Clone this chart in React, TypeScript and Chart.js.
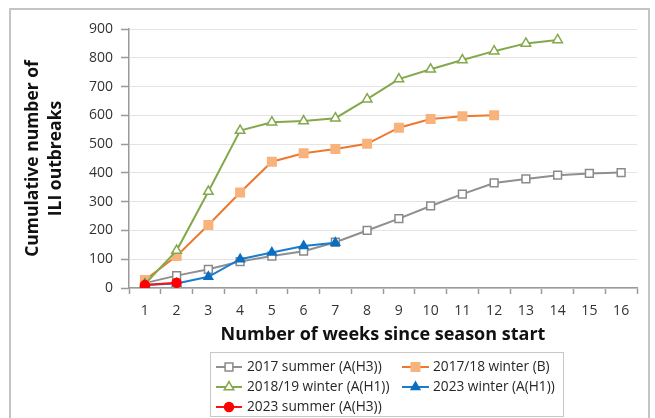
import React, { useEffect, useRef } from "react";
import { Chart, registerables } from "chart.js";

Chart.register(...registerables);

const weeks = ["1", "2", "3", "4", "5", "6", "7", "8", "9", "10", "11", "12", "13", "14", "15", "16"];
const summer2017 = [17, 43, 65, 92, 111, 128, 159, 200, 241, 285, 326, 365, 379, 392, 398, 401];
const winter201718 = [28, 111, 219, 332, 439, 468, 483, 501, 557, 587, 597, 600];
const winter201819 = [14, 130, 335, 547, 576, 580, 590, 656, 726, 760, 792, 823, 850, 862];
const winter2023 = [10, 16, 39, 100, 123, 146, 157];
const summer2023 = [10, 18];

const yTicks = [0, 100, 200, 300, 400, 500, 600, 700, 800, 900];

const FONT = "'Open Sans', 'Noto Sans', sans-serif";

type Series = {
  label: string;
  data: number[];
  line: string;
  fill: string;
  stroke: string;
  marker: "rect" | "triangle" | "circle";
  radius: number;
};

const series: Series[] = [
  { label: "2017 summer (A(H3))", data: summer2017, line: "#8f8f8f", fill: "#ffffff", stroke: "#8a8a8a", marker: "rect", radius: 5.5 },
  { label: "2017/18 winter (B)", data: winter201718, line: "#ec7a2e", fill: "#f8b27c", stroke: "#f8b27c", marker: "rect", radius: 6 },
  { label: "2018/19 winter (A(H1))", data: winter201819, line: "#84a84c", fill: "#ffffff", stroke: "#84a84c", marker: "triangle", radius: 5.5 },
  { label: "2023 winter (A(H1))", data: winter2023, line: "#1a7ccc", fill: "#0a6fc2", stroke: "#0a6fc2", marker: "triangle", radius: 5 },
  { label: "2023 summer (A(H3))", data: summer2023, line: "#ff1010", fill: "#ff0000", stroke: "#ff0000", marker: "circle", radius: 4.5 },
];

function drawMarker(ctx: CanvasRenderingContext2D, s: Series, x: number, y: number) {
  ctx.save();
  ctx.fillStyle = s.fill;
  ctx.strokeStyle = s.stroke;
  ctx.lineWidth = 1.5;
  ctx.beginPath();
  const r = s.radius;
  if (s.marker === "rect") {
    const h = r * Math.SQRT1_2;
    ctx.rect(x - h, y - h, 2 * h, 2 * h);
  } else if (s.marker === "triangle") {
    const side = (3 * r) / Math.sqrt(3);
    const height = (side * Math.sqrt(3)) / 2;
    ctx.moveTo(x - side / 2, y + height / 3);
    ctx.lineTo(x + side / 2, y + height / 3);
    ctx.lineTo(x, y - (2 * height) / 3);
    ctx.closePath();
  } else {
    ctx.arc(x, y, r, 0, Math.PI * 2);
  }
  ctx.fill();
  ctx.stroke();
  ctx.restore();
}

const legendPlugin = {
  id: "gridLegend",
  afterDraw(chart: any) {
    const ctx: CanvasRenderingContext2D = chart.ctx;
    ctx.save();
    ctx.strokeStyle = "#c8c8c8";
    ctx.lineWidth = 1;
    ctx.strokeRect(210.5, 352.5, 353, 64);
    const cols = [
      { x0: 216, x1: 242, tx: 247 },
      { x0: 402, x1: 429, tx: 433 },
    ];
    const rows = [367, 387, 407];
    ctx.font = `13.7px ${FONT}`;
    ctx.textBaseline = "middle";
    ctx.textAlign = "left";
    series.forEach((s, i) => {
      const c = cols[i % 2];
      const y = rows[Math.floor(i / 2)];
      ctx.strokeStyle = s.line;
      ctx.lineWidth = 2;
      ctx.beginPath();
      ctx.moveTo(c.x0, y);
      ctx.lineTo(c.x1, y);
      ctx.stroke();
      drawMarker(ctx, s, (c.x0 + c.x1) / 2, y);
      ctx.fillStyle = "#262626";
      ctx.fillText(s.label, c.tx, y);
    });
    ctx.restore();
  },
};

export default function App() {
  const ref = useRef<HTMLCanvasElement | null>(null);

  useEffect(() => {
    if (!ref.current) return;
    const drawOrder = [4, 3, 2, 1, 0];
    const datasets = drawOrder.map((i) => {
      const s = series[i];
      return {
        label: s.label,
        data: s.data,
        borderColor: s.line,
        backgroundColor: s.fill,
        pointBackgroundColor: s.fill,
        pointBorderColor: s.stroke,
        pointBorderWidth: 1.5,
        pointStyle: s.marker,
        pointRadius: s.radius,
        borderWidth: 2,
        tension: 0,
        fill: false,
      };
    });
    const chart = new Chart(ref.current, {
      type: "line",
      data: { labels: weeks, datasets },
      plugins: [legendPlugin],
      options: {
        animation: false,
        responsive: false,
        maintainAspectRatio: false,
        layout: { padding: { left: 0, right: 18, top: 29, bottom: 0 } },
        plugins: {
          legend: { display: false },
          tooltip: { enabled: false },
        },
        scales: {
          x: {
            type: "category",
            offset: true,
            afterFit: (scale: any) => {
              scale.height = 130;
            },
            grid: {
              offset: true,
              drawOnChartArea: false,
              drawTicks: true,
              tickLength: 6,
              tickColor: "#9a9a9a",
              tickWidth: 1.5,
            },
            border: { color: "#9a9a9a", width: 1.5 },
            ticks: {
              color: "#333333",
              font: { family: FONT, size: 14 },
              padding: 9,
              maxRotation: 0,
              autoSkip: false,
            },
            title: {
              display: true,
              text: "Number of weeks since season start",
              color: "#111111",
              font: { family: FONT, size: 18, weight: "bold", lineHeight: 1.3 },
              padding: { top: 0, bottom: 71 },
            },
          },
          y: {
            min: 0,
            max: 900,
            afterFit: (scale: any) => {
              scale.width = 129;
            },
            afterBuildTicks: (scale: any) => {
              scale.ticks = yTicks.map((v) => ({ value: v }));
            },
            grid: {
              color: "#e4e4e4",
              lineWidth: 1,
              tickLength: 8,
              tickColor: "#9a9a9a",
              tickWidth: 1.5,
            },
            border: { color: "#9a9a9a", width: 1.5 },
            ticks: {
              color: "#333333",
              font: { family: FONT, size: 14 },
              padding: 8,
            },
            title: {
              display: true,
              text: ["Cumulative number of", "ILI outbreaks"],
              color: "#111111",
              font: { family: FONT, size: 17.5, weight: "bold", lineHeight: 1.35 },
              padding: { top: 21, bottom: 0 },
            },
          },
        },
      },
    } as any);
    return () => chart.destroy();
  }, []);

  return (
    <div style={{ position: "fixed", left: 0, top: 0, width: 655, height: 418, background: "#ffffff", overflow: "hidden" }}>
      <div
        style={{
          position: "absolute",
          left: 9,
          top: 8,
          width: 641,
          height: 430,
          border: "2px solid #c4c4c4",
          boxSizing: "border-box",
        }}
      />
      <canvas ref={ref} width={655} height={418} style={{ position: "absolute", left: 0, top: 0, width: 655, height: 418 }} />
    </div>
  );
}
